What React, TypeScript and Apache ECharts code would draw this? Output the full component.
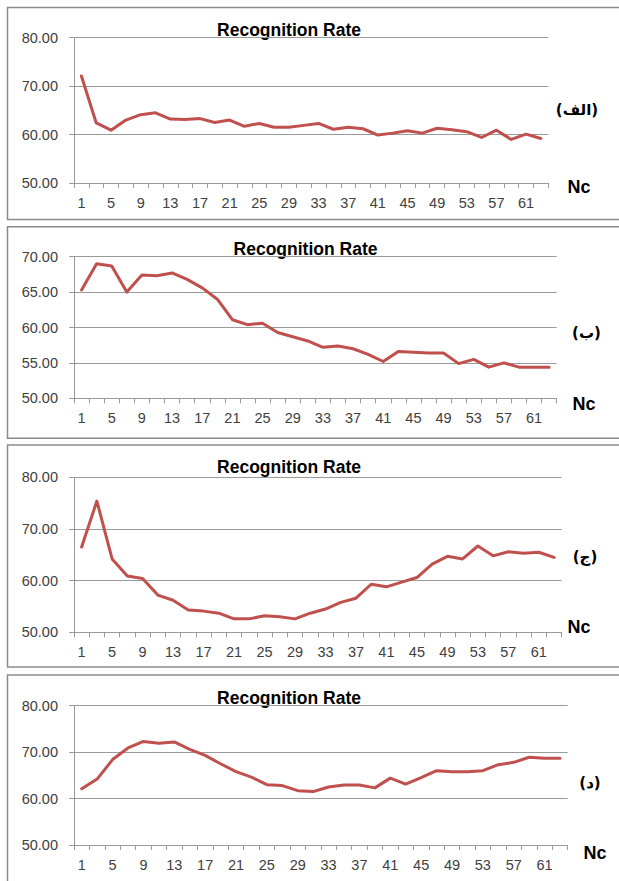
import React, { useEffect, useRef } from "react";
import * as echarts from "echarts";

const categories = [
  "1", "3", "5", "7", "9", "11", "13", "15", "17", "19", "21", "23", "25", "27", "29", "31",
  "33", "35", "37", "39", "41", "43", "45", "47", "49", "51", "53", "55", "57", "59", "61", "63",
];

const seriesA = [
  72.1, 62.4, 60.9, 63.0, 64.1, 64.5, 63.2, 63.1, 63.3, 62.5, 63.0, 61.7, 62.3, 61.5, 61.5, 61.9,
  62.3, 61.1, 61.5, 61.2, 59.9, 60.3, 60.8, 60.3, 61.3, 61.0, 60.6, 59.4, 60.9, 59.0, 60.1, 59.2,
];
const seriesB = [
  65.3, 69.0, 68.7, 65.0, 67.4, 67.3, 67.7, 66.8, 65.6, 64.0, 61.1, 60.4, 60.6, 59.3, 58.7, 58.1,
  57.2, 57.4, 57.0, 56.2, 55.2, 56.6, 56.5, 56.4, 56.4, 54.9, 55.5, 54.4, 55.0, 54.4, 54.4, 54.4,
];
const seriesC = [
  66.5, 75.4, 64.2, 60.9, 60.4, 57.2, 56.2, 54.3, 54.1, 53.7, 52.6, 52.6, 53.2, 53.0, 52.6, 53.7,
  54.5, 55.8, 56.6, 59.3, 58.8, 59.7, 60.6, 63.2, 64.7, 64.2, 66.7, 64.8, 65.6, 65.3, 65.5, 64.5,
];
const seriesD = [
  62.1, 64.2, 68.4, 70.9, 72.3, 71.9, 72.2, 70.6, 69.3, 67.5, 65.8, 64.6, 63.0, 62.8, 61.7, 61.5,
  62.5, 62.9, 62.9, 62.3, 64.4, 63.1, 64.5, 66.0, 65.8, 65.8, 66.0, 67.3, 67.8, 68.9, 68.7, 68.7,
];

const panelTags = ["(الف)", "(ب)", "(ج)", "(د)"];
const titleText = "Recognition Rate";
const xName = "Nc";
const yMins = [50, 50, 50, 50];
const yMaxs = [80, 70, 80, 80];
const ySteps = [10, 5, 10, 10];

const allSeries = [seriesA, seriesB, seriesC, seriesD];

// layout (pixels)
const grids = [
  { left: 74, top: 37.7, width: 474.3, height: 145.3 },
  { left: 74, top: 256.7, width: 482.7, height: 141.6 },
  { left: 74, top: 477.3, width: 487.7, height: 155 },
  { left: 74, top: 705.7, width: 493.7, height: 139.3 },
];
const boxes = [
  { y: 7.5, h: 212 },
  { y: 226.7, h: 211.6 },
  { y: 445, h: 222 },
  { y: 675, h: 215 },
];
const titlePos = [
  [289, 29.5],
  [305.5, 248.5],
  [289, 466.7],
  [289, 697.5],
];
const tagPos = [
  [577, 110],
  [586.5, 333],
  [585, 557],
  [590, 783],
];
const ncPos = [
  [579, 187],
  [584, 404],
  [579, 627],
  [595, 853],
];

const FONT = "'Liberation Sans', Arial, sans-serif";
const LABEL_COLOR = "#404040";
const GRID_COLOR = "#9a9a9a";
const LINE_COLOR = "#C0504D";

export default function App() {
  const ref = useRef<HTMLDivElement>(null);

  useEffect(() => {
    if (!ref.current) return;
    const chart = echarts.init(ref.current, undefined, { renderer: "svg" });

    const graphics: any[] = [];
    boxes.forEach((b) => {
      graphics.push({
        type: "rect",
        shape: { x: 7.5, y: b.y, width: 640, height: b.h },
        style: { fill: "transparent", stroke: "#8a8a8a", lineWidth: 1.5 },
        silent: true,
        z: 0,
      });
    });
    titlePos.forEach((p) => {
      graphics.push({
        type: "text",
        x: p[0],
        y: p[1],
        style: {
          text: titleText,
          fill: "#000",
          font: `bold 17.5px ${FONT}`,
          textAlign: "center",
          textVerticalAlign: "middle",
        },
      });
    });
    tagPos.forEach((p, i) => {
      graphics.push({
        type: "text",
        x: p[0],
        y: p[1],
        style: {
          text: panelTags[i],
          fill: "#000",
          font: `bold 15px 'DejaVu Sans', sans-serif`,
          textAlign: "center",
          textVerticalAlign: "middle",
        },
      });
    });
    ncPos.forEach((p) => {
      graphics.push({
        type: "text",
        x: p[0],
        y: p[1],
        style: {
          text: xName,
          fill: "#000",
          font: `bold 18px ${FONT}`,
          textAlign: "center",
          textVerticalAlign: "middle",
        },
      });
    });

    const option: any = {
      animation: false,
      backgroundColor: "#fff",
      grid: grids.map((g) => ({ ...g, containLabel: false })),
      xAxis: grids.map((_, i) => ({
        type: "category",
        gridIndex: i,
        data: categories,
        boundaryGap: true,
        axisLine: { show: true, lineStyle: { color: GRID_COLOR, width: 1 } },
        axisTick: { show: true, interval: 0, length: 5, lineStyle: { color: GRID_COLOR } },
        axisLabel: {
          interval: 1,
          color: LABEL_COLOR,
          fontSize: 14.5,
          fontFamily: FONT,
          margin: 12,
        },
        splitLine: { show: false },
      })),
      yAxis: grids.map((_, i) => ({
        type: "value",
        gridIndex: i,
        min: yMins[i],
        max: yMaxs[i],
        interval: ySteps[i],
        axisLine: { show: true, lineStyle: { color: GRID_COLOR, width: 1 } },
        axisTick: { show: true, length: 5, lineStyle: { color: GRID_COLOR } },
        axisLabel: {
          color: LABEL_COLOR,
          fontSize: 14.5,
          fontFamily: FONT,
          margin: 16,
          formatter: (v: number) => v.toFixed(2),
        },
        splitLine: { show: true, lineStyle: { color: GRID_COLOR, width: 1 } },
      })),
      series: allSeries.map((d, i) => ({
        type: "line",
        xAxisIndex: i,
        yAxisIndex: i,
        data: d,
        symbol: "none",
        smooth: false,
        lineStyle: { color: LINE_COLOR, width: 3, join: "round", cap: "round" },
        itemStyle: { color: LINE_COLOR },
        z: 3,
      })),
      graphic: graphics,
    };

    chart.setOption(option);
    return () => chart.dispose();
  }, []);

  return (
    <div
      ref={ref}
      style={{ position: "absolute", left: 0, top: 0, width: 619, height: 881, background: "#fff" }}
    />
  );
}
